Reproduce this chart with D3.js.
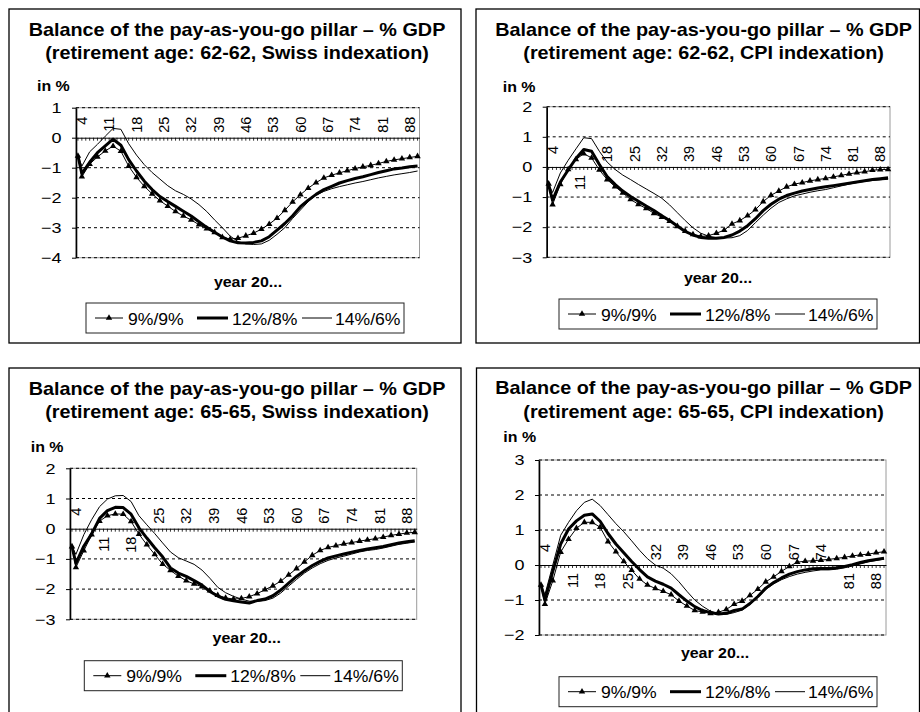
<!DOCTYPE html>
<html>
<head>
<meta charset="utf-8">
<script src="https://cdn.jsdelivr.net/npm/d3@7"></script>
<style>
body { margin: 0; background: #fff; }
svg { display: block; }
</style>
</head>
<body>
<svg id="chart" width="920" height="712"></svg>
<script>

// categories on the x axis (year 20..)
var categories = d3.range(3, 91);
// years that carry a value in every series
var years = [3, 4, 6, 8, 10, 12, 14, 16, 18, 20, 22, 24, 26, 28, 30, 32, 34, 36, 38, 40,
  42, 44, 46, 48, 50, 52, 54, 56, 58, 60, 62, 64, 66, 68, 70, 72, 74, 76, 78, 80,
  82, 84, 86, 88, 90];
var xLabels = [4, 11, 18, 25, 32, 39, 46, 53, 60, 67, 74, 81, 88];
var seriesNames = ['9%/9%', '12%/8%', '14%/6%'];

// retirement age 62-62, Swiss indexation
var yTicks62S = [-4, -3, -2, -1, 0, 1];
var below62S = [];
var s62S_9 = [-0.61, -1.3, -0.88, -0.64, -0.44, -0.28, -0.45, -0.95, -1.32, -1.62,
  -1.87, -2.1, -2.28, -2.46, -2.61, -2.74, -2.9, -3.03, -3.16, -3.32,
  -3.38, -3.35, -3.27, -3.18, -3.05, -2.88, -2.68, -2.42, -2.14, -1.9,
  -1.68, -1.5, -1.34, -1.25, -1.17, -1.1, -1.03, -0.97, -0.92, -0.86,
  -0.79, -0.74, -0.7, -0.66, -0.62];
var s62S_12 = [-0.6, -1.2, -0.82, -0.5, -0.27, -0.05, -0.25, -0.73, -1.11, -1.45,
  -1.73, -1.96, -2.13, -2.29, -2.45, -2.61, -2.8, -2.99, -3.15, -3.31,
  -3.44, -3.5, -3.51, -3.49, -3.44, -3.3, -3.08, -2.86, -2.6, -2.3,
  -2.08, -1.89, -1.73, -1.62, -1.51, -1.43, -1.36, -1.3, -1.23, -1.16,
  -1.1, -1.04, -1.01, -0.97, -0.94];
var s62S_14 = [-0.6, -0.95, -0.47, -0.22, 0.05, 0.31, 0.28, -0.2, -0.58, -0.9,
  -1.16, -1.38, -1.6, -1.77, -1.89, -2.04, -2.23, -2.46, -2.74, -3.0,
  -3.28, -3.46, -3.54, -3.56, -3.54, -3.42, -3.22, -3.0, -2.69, -2.41,
  -2.13, -1.91, -1.79, -1.7, -1.63, -1.57, -1.51, -1.46, -1.4, -1.34,
  -1.29, -1.24, -1.2, -1.16, -1.11];

// retirement age 62-62, CPI indexation
var yTicks62C = [-3, -2, -1, 0, 1, 2];
var below62C = [11];
var s62C_9 = [-0.56, -1.25, -0.58, -0.08, 0.25, 0.44, 0.3, -0.1, -0.42, -0.65,
  -0.86, -1.08, -1.24, -1.38, -1.54, -1.67, -1.8, -1.97, -2.13, -2.24,
  -2.31, -2.28, -2.2, -2.1, -1.89, -1.78, -1.62, -1.42, -1.15, -0.94,
  -0.8, -0.66, -0.57, -0.52, -0.46, -0.42, -0.38, -0.33, -0.28, -0.23,
  -0.19, -0.16, -0.11, -0.09, -0.08];
var s62C_12 = [-0.6, -1.1, -0.5, -0.1, 0.28, 0.58, 0.52, 0.08, -0.32, -0.58,
  -0.8, -0.98, -1.14, -1.3, -1.45, -1.62, -1.78, -1.96, -2.14, -2.26,
  -2.34, -2.37, -2.37, -2.34, -2.26, -2.13, -1.95, -1.72, -1.45, -1.24,
  -1.07, -0.95, -0.87, -0.8, -0.75, -0.7, -0.66, -0.62, -0.58, -0.54,
  -0.5, -0.46, -0.42, -0.39, -0.36];
var s62C_14 = [-0.56, -0.85, -0.2, 0.22, 0.6, 0.97, 0.94, 0.52, 0.16, -0.08,
  -0.27, -0.42, -0.58, -0.73, -0.88, -1.04, -1.26, -1.52, -1.78, -2.02,
  -2.2, -2.3, -2.35, -2.36, -2.35, -2.28, -2.11, -1.85, -1.6, -1.37,
  -1.18, -1.06, -0.96, -0.9, -0.84, -0.79, -0.75, -0.69, -0.63, -0.57,
  -0.52, -0.48, -0.45, -0.43, -0.41];

// retirement age 65-65, Swiss indexation
var yTicks65S = [-3, -2, -1, 0, 1, 2];
var below65S = [11, 18];
var s65S_9 = [-0.59, -1.28, -0.73, -0.2, 0.25, 0.43, 0.49, 0.48, 0.24, -0.18,
  -0.53, -0.85, -1.17, -1.38, -1.57, -1.72, -1.83, -1.92, -2.05, -2.2,
  -2.29, -2.33, -2.31, -2.25, -2.15, -2.02, -1.89, -1.74, -1.53, -1.32,
  -1.1, -0.88, -0.72, -0.62, -0.56, -0.5, -0.46, -0.41, -0.37, -0.33,
  -0.28, -0.22, -0.18, -0.14, -0.12];
var s65S_12 = [-0.59, -1.15, -0.58, -0.17, 0.34, 0.6, 0.71, 0.7, 0.48, 0.03,
  -0.31, -0.63, -0.93, -1.3, -1.47, -1.58, -1.72, -1.87, -2.08, -2.23,
  -2.34, -2.39, -2.43, -2.46, -2.38, -2.33, -2.22, -2.03, -1.8, -1.58,
  -1.39, -1.22, -1.08, -0.97, -0.9, -0.84, -0.78, -0.72, -0.67, -0.63,
  -0.59, -0.53, -0.47, -0.43, -0.4];
var s65S_14 = [-0.59, -0.85, -0.2, 0.3, 0.73, 0.98, 1.09, 1.1, 0.9, 0.43,
  0.13, -0.16, -0.47, -0.77, -0.96, -1.07, -1.18, -1.37, -1.64, -1.94,
  -2.12, -2.24, -2.33, -2.4, -2.41, -2.38, -2.3, -2.13, -1.9, -1.68,
  -1.47, -1.3, -1.16, -1.05, -0.97, -0.91, -0.84, -0.77, -0.72, -0.69,
  -0.64, -0.58, -0.52, -0.48, -0.44];

// retirement age 65-65, CPI indexation
var yTicks65C = [-2, -1, 0, 1, 2, 3];
var below65C = [11, 18, 25, 81, 88];
var s65C_9 = [-0.57, -1.12, -0.45, 0.37, 0.74, 1.05, 1.22, 1.22, 1.08, 0.67,
  0.38, 0.1, -0.15, -0.4, -0.57, -0.67, -0.75, -0.85, -1.03, -1.17,
  -1.3, -1.34, -1.38, -1.35, -1.27, -1.12, -1.03, -0.87, -0.69, -0.48,
  -0.34, -0.18, -0.04, 0.08, 0.11, 0.12, 0.14, 0.16, 0.19, 0.22,
  0.26, 0.29, 0.31, 0.35, 0.38];
var s65C_12 = [-0.57, -1.0, -0.18, 0.6, 1.03, 1.26, 1.42, 1.46, 1.25, 0.9,
  0.6, 0.35, 0.1, -0.13, -0.34, -0.46, -0.55, -0.66, -0.85, -1.03,
  -1.19, -1.3, -1.36, -1.4, -1.38, -1.3, -1.26, -1.1, -0.9, -0.66,
  -0.5, -0.37, -0.26, -0.19, -0.14, -0.11, -0.1, -0.1, -0.08, -0.04,
  0.01, 0.07, 0.12, 0.16, 0.19];
var s65C_14 = [-0.57, -0.85, 0.0, 0.85, 1.22, 1.55, 1.79, 1.88, 1.7, 1.44,
  1.18, 0.95, 0.69, 0.42, 0.18, 0.0, -0.09, -0.25, -0.48, -0.75,
  -1.0, -1.18, -1.32, -1.4, -1.41, -1.36, -1.29, -1.13, -0.93, -0.7,
  -0.54, -0.42, -0.33, -0.26, -0.21, -0.17, -0.14, -0.14, -0.12, -0.08,
  -0.03, 0.03, 0.09, 0.13, 0.17];

var title1 = 'Balance of the pay-as-you-go pillar \u2013 % GDP';

// layout of the four panels
var panels = [
  { title2: '(retirement age: 62-62, Swiss indexation)',
    frame: [9, 9, 461, 343], plot: [76, 107.7, 419.5, 257.7], yTicks: yTicks62S, below: below62S,
    titleX: 237, titleY: [36, 59], inX: 37, inY: 90.7, yearX: 248, yearY: 286.7,
    legX: 86, legY: 303, series: [s62S_9, s62S_12, s62S_14] },
  { title2: '(retirement age: 62-62, CPI indexation)',
    frame: [476, 9, 919.5, 343], plot: [546.7, 106.7, 890, 257.3], yTicks: yTicks62C, below: below62C,
    titleX: 703.6, titleY: [36, 59], inX: 502.7, inY: 91.7, yearX: 718, yearY: 282.7,
    legX: 559, legY: 299, series: [s62C_9, s62C_12, s62C_14] },
  { title2: '(retirement age: 65-65, Swiss indexation)',
    frame: [9, 368, 461, 740], plot: [70, 468.3, 416.7, 619.3], yTicks: yTicks65S, below: below65S,
    titleX: 237, titleY: [395, 418.3], inX: 30.7, inY: 451.7, yearX: 246.7, yearY: 643.3,
    legX: 84.3, legY: 660.7, series: [s65S_9, s65S_12, s65S_14] },
  { title2: '(retirement age: 65-65, CPI indexation)',
    frame: [476.5, 368, 919.5, 740], plot: [539, 460, 886, 635], yTicks: yTicks65C, below: below65C,
    titleX: 703.6, titleY: [394.3, 418.3], inX: 503.3, inY: 441.7, yearX: 715, yearY: 658.3,
    legX: 559, legY: 676.7, series: [s65C_9, s65C_12, s65C_14] }
];

var FONT = "'Liberation Sans', Arial, Helvetica, sans-serif";
var svg = d3.select('#chart').attr('font-family', FONT);

svg.append('rect').attr('width', 920).attr('height', 712).attr('fill', '#fff');

// text slightly widened, like the original print
function txt(g, x, y, s, size, weight, anchor) {
  return g.append('text')
    .attr('transform', 'translate(' + x + ',' + y + ') scale(1.1,1)')
    .attr('font-size', size)
    .attr('font-weight', weight)
    .attr('text-anchor', anchor)
    .attr('fill', '#000')
    .text(s);
}

var tri = d3.symbol().type(d3.symbolTriangle).size(18);

panels.forEach(drawPanel);

function drawPanel(p) {
  var g = svg.append('g');

  // outer frame
  g.append('rect')
    .attr('x', p.frame[0]).attr('y', p.frame[1])
    .attr('width', p.frame[2] - p.frame[0]).attr('height', p.frame[3] - p.frame[1])
    .attr('fill', 'none').attr('stroke', '#000').attr('stroke-width', 1.3);

  // titles
  txt(g, p.titleX, p.titleY[0], title1, 18, 'bold', 'middle');
  txt(g, p.titleX, p.titleY[1], p.title2, 18, 'bold', 'middle');
  txt(g, p.inX, p.inY, 'in %', 14.5, 'bold', 'start');
  txt(g, p.yearX, p.yearY, 'year 20...', 14.5, 'bold', 'middle');

  // scales
  var x = d3.scaleBand().domain(categories).range([p.plot[0], p.plot[2]]);
  var y = d3.scaleLinear()
    .domain([d3.min(p.yTicks), d3.max(p.yTicks)])
    .range([p.plot[3], p.plot[1]]);
  var cx = function(v) { return x(v) + x.bandwidth() / 2; };

  // plot area border
  g.append('rect')
    .attr('x', p.plot[0]).attr('y', p.plot[1])
    .attr('width', p.plot[2] - p.plot[0]).attr('height', p.plot[3] - p.plot[1])
    .attr('fill', '#fff').attr('stroke', '#9a9a9a').attr('stroke-width', 1);

  // dashed gridlines
  g.selectAll('line.grid')
    .data(p.yTicks.filter(function(v) { return v !== 0; }))
    .enter().append('line')
      .attr('class', 'grid')
      .attr('x1', p.plot[0]).attr('x2', p.plot[2])
      .attr('y1', function(d) { return y(d); })
      .attr('y2', function(d) { return y(d); })
      .attr('stroke', '#000').attr('stroke-width', 1)
      .attr('stroke-dasharray', '3,3');

  // x axis on the zero line, one tick per year
  var xa = g.append('g')
    .attr('transform', 'translate(0,' + y(0) + ')')
    .call(d3.axisBottom(x).tickValues(categories).tickSize(3).tickSizeOuter(0).tickFormat(''));
  xa.select('.domain').attr('stroke', '#000');
  xa.selectAll('.tick line').attr('stroke', '#000').attr('stroke-width', 0.8);

  // rotated year labels, above or below the zero line
  g.selectAll('text.xl')
    .data(xLabels)
    .enter().append('text')
      .attr('class', 'xl')
      .attr('transform', function(d) {
        var yy = p.below.indexOf(d) >= 0 ? y(0) + 8 : y(0) - 21;
        return 'translate(' + cx(d) + ',' + yy + ') rotate(-90)';
      })
      .attr('dy', '0.36em')
      .attr('text-anchor', 'end')
      .attr('font-size', 14.5)
      .attr('fill', '#000')
      .text(function(d) { return d; });

  // y axis
  var ya = g.append('g')
    .attr('transform', 'translate(' + p.plot[0] + ',0)')
    .call(d3.axisLeft(y).tickValues(p.yTicks).tickSize(4).tickSizeOuter(0).tickPadding(8)
      .tickFormat(d3.format('d')));
  ya.attr('font-family', FONT).attr('font-size', 15);
  ya.select('.domain').attr('stroke', '#000').attr('stroke-width', 1.6);
  ya.selectAll('.tick line').attr('stroke', '#000');
  ya.selectAll('.tick text').attr('fill', '#000').attr('transform', 'scale(1.2,1)');

  // series
  var line = d3.line()
    .x(function(d, i) { return cx(years[i]); })
    .y(function(d) { return y(d); });

  g.append('path').datum(p.series[2])
    .attr('d', line).attr('fill', 'none').attr('stroke', '#000').attr('stroke-width', 1);
  g.append('path').datum(p.series[1])
    .attr('d', line).attr('fill', 'none').attr('stroke', '#000').attr('stroke-width', 3)
    .attr('stroke-linejoin', 'round');
  g.append('path').datum(p.series[0])
    .attr('d', line).attr('fill', 'none').attr('stroke', '#000').attr('stroke-width', 1);
  g.selectAll('path.mk')
    .data(p.series[0])
    .enter().append('path')
      .attr('class', 'mk')
      .attr('d', tri)
      .attr('transform', function(d, i) { return 'translate(' + cx(years[i]) + ',' + y(d) + ')'; })
      .attr('fill', '#000');

  drawLegend(g, p.legX, p.legY);
}

function drawLegend(g, lx, ly) {
  var lg = g.append('g');
  lg.append('rect')
    .attr('x', lx).attr('y', ly).attr('width', 318).attr('height', 30)
    .attr('fill', '#fff').attr('stroke', '#222').attr('stroke-width', 1);
  var my = ly + 15;

  lg.append('line').attr('x1', lx + 9).attr('x2', lx + 37).attr('y1', my).attr('y2', my)
    .attr('stroke', '#000').attr('stroke-width', 1);
  lg.append('path').attr('d', tri).attr('transform', 'translate(' + (lx + 23) + ',' + my + ')')
    .attr('fill', '#000');
  txt(lg, lx + 42, ly + 21.5, seriesNames[0], 16, 'normal', 'start');

  lg.append('line').attr('x1', lx + 111).attr('x2', lx + 142).attr('y1', my).attr('y2', my)
    .attr('stroke', '#000').attr('stroke-width', 3);
  txt(lg, lx + 146, ly + 21.5, seriesNames[1], 16, 'normal', 'start');

  lg.append('line').attr('x1', lx + 216).attr('x2', lx + 246).attr('y1', my).attr('y2', my)
    .attr('stroke', '#000').attr('stroke-width', 1);
  txt(lg, lx + 249, ly + 21.5, seriesNames[2], 16, 'normal', 'start');
}

</script>
</body>
</html>
